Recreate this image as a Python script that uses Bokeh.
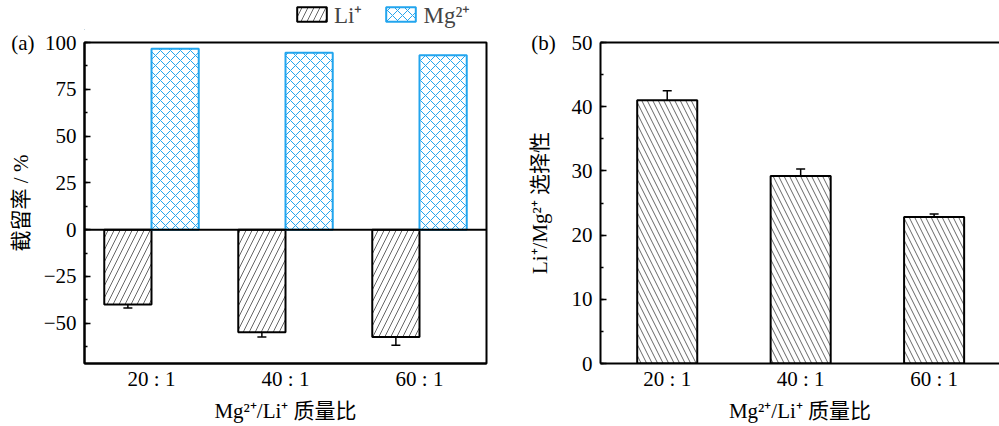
import numpy as np
from bokeh.plotting import figure
from bokeh.models import (ColumnDataSource, FixedTicker, SingleIntervalTicker, Span,
                          Whisker, TeeHead, Legend, LegendItem, LinearAxis, Range1d)
from bokeh.layouts import row, column
from bokeh.embed import file_html
from bokeh.resources import INLINE

# ---------------- data ----------------
ratio_labels = ["20 : 1", "40 : 1", "60 : 1"]
li_rejection = [-40.0, -54.8, -57.3]
li_rejection_err = [1.8, 2.5, 4.4]
mg_rejection = [96.6, 94.5, 93.2]
selectivity = [41.0, 29.2, 22.8]
selectivity_err = [1.5, 1.1, 0.5]
series_names = ["Li⁺", "Mg²⁺"]

SERIF = "Liberation Serif, Noto Sans CJK SC"
BLUE = "#22a5ee"
TICK_FONT = "21px"
LABEL_FONT = "21px"
NB = "\u00a0"

LI_STYLE = dict(fill_color="white", line_color="black", line_width=2,
                hatch_pattern="/", hatch_color="#666666", hatch_scale=12, hatch_weight=1)
MG_STYLE = dict(fill_color="white", line_color=BLUE, line_width=2,
                hatch_pattern="x", hatch_color=BLUE, hatch_scale=10, hatch_weight=1)

x = np.arange(1, len(ratio_labels) + 1)
overrides = {int(i): lab for i, lab in zip(x, ratio_labels)}


def style(p, interval):
    p.grid.visible = False
    p.background_fill_color = "white"
    p.border_fill_color = "white"
    p.xaxis.ticker = FixedTicker(ticks=list(x))
    p.xaxis.major_label_overrides = overrides
    p.xaxis.major_tick_line_color = None
    p.xaxis.minor_tick_line_color = None
    p.xaxis.major_tick_out = 0
    p.xaxis.major_tick_in = 0
    p.yaxis.ticker = SingleIntervalTicker(interval=interval, num_minor_ticks=2)
    p.yaxis.major_tick_in = 6
    p.yaxis.major_tick_out = 0
    p.yaxis.minor_tick_in = 3
    p.yaxis.minor_tick_out = 0
    for ax in (p.xaxis, p.yaxis):
        ax.axis_line_width = 2
        ax.axis_line_color = "black"
        ax.major_tick_line_width = 1.5
        ax.minor_tick_line_width = 1.5
        ax.major_label_text_font = SERIF
        ax.major_label_text_font_size = TICK_FONT
        ax.major_label_text_color = "black"
        ax.axis_label_text_font = SERIF
        ax.axis_label_text_font_size = LABEL_FONT
        ax.axis_label_text_font_style = "normal"
        ax.axis_label_text_color = "black"
    p.xaxis.major_label_standoff = 3
    p.xaxis.axis_label_standoff = 5
    p.yaxis.major_label_standoff = 8


# ---------------- legend strip (frame aligned with panel a) ----------------
leg = figure(width=500, height=30, min_border=0, x_range=Range1d(0, 1), y_range=Range1d(0, 1),
             x_axis_type=None, y_axis_type=None, output_backend="svg", toolbar_location=None)
leg.grid.visible = False
leg.outline_line_color = None
leg.background_fill_color = "white"
leg.border_fill_color = "white"
dummy = dict(x=[-1.0], top=[0.0])   # outside the strip's range: only the legend swatches show
lr_li = leg.vbar(x="x", top="top", width=0.1, source=ColumnDataSource(dummy), **LI_STYLE)
lr_mg = leg.vbar(x="x", top="top", width=0.1, source=ColumnDataSource(dummy), **MG_STYLE)
legend = Legend(items=[LegendItem(label=series_names[0], renderers=[lr_li]),
                       LegendItem(label=series_names[1], renderers=[lr_mg])],
                orientation="horizontal", location=(209, 0),
                glyph_width=37, glyph_height=18, label_standoff=4, spacing=20,
                padding=0, margin=0, border_line_color=None, background_fill_alpha=0,
                label_text_font=SERIF, label_text_font_size="23px")
leg.add_layout(legend)

# ---------------- panel (a) ----------------
w = 0.3525
pa = figure(width=500, height=396, min_border_left=84, min_border_right=14,
            min_border_top=12, min_border_bottom=63,
            x_range=Range1d(0.5, 3.5), y_range=Range1d(-71.5, 100),
            output_backend="svg", toolbar_location=None)
style(pa, 25)
pa.outline_line_color = "black"
pa.outline_line_width = 2
pa.outline_line_alpha = 1
pa.xaxis.axis_label = "Mg²⁺/Li⁺ 质量比"
pa.yaxis.axis_label = "截留率 / %"
pa.yaxis.axis_label_standoff = -25
pa.yaxis.major_label_overrides = {100: "(a)" + NB * 2 + "100"}

src_li = ColumnDataSource(dict(x=x - w / 2, top=[0] * len(x), bottom=li_rejection,
                               upper=np.array(li_rejection) + np.array(li_rejection_err),
                               lower=np.array(li_rejection) - np.array(li_rejection_err)))
src_mg = ColumnDataSource(dict(x=x + w / 2, top=mg_rejection, bottom=[0] * len(x)))

pa.vbar(x="x", top="top", bottom="bottom", width=w, source=src_li, **LI_STYLE)
pa.vbar(x="x", top="top", bottom="bottom", width=w, source=src_mg, **MG_STYLE)
pa.add_layout(Span(location=0, dimension="width", line_color="black", line_width=2))
pa.add_layout(Whisker(source=src_li, base="x", upper="upper", lower="lower",
                      line_width=1.5, line_color="black",
                      upper_head=TeeHead(size=9, line_width=1.5, line_color="black"),
                      lower_head=TeeHead(size=9, line_width=1.5, line_color="black")))

# ---------------- panel (b) ----------------
wb = 0.45
pb = figure(width=499, height=426, min_border_left=100, min_border_right=0,
            min_border_top=42, min_border_bottom=63,
            x_range=Range1d(0.5, 3.49), y_range=Range1d(0, 50),
            output_backend="svg", toolbar_location=None)
style(pb, 10)
pb.outline_line_color = None
pb.xaxis.axis_label = "Mg²⁺/Li⁺ 质量比"
pb.yaxis.axis_label = "Li⁺/Mg²⁺ 选择性"
pb.yaxis.axis_label_standoff = -24
pb.yaxis.major_label_overrides = {50: "(b)" + NB * 3 + "50"}

top_ax = LinearAxis(ticker=FixedTicker(ticks=[]), axis_line_width=2, axis_line_color="black",
                    major_tick_line_color=None, minor_tick_line_color=None)
right_ax = LinearAxis(ticker=FixedTicker(ticks=[]), axis_line_width=1, axis_line_color="#d8d8d8",
                      major_tick_line_color=None, minor_tick_line_color=None)
pb.add_layout(top_ax, "above")
pb.add_layout(right_ax, "right")

sel = np.array(selectivity)
sel_e = np.array(selectivity_err)
src_b = ColumnDataSource(dict(x=x, top=sel, upper=sel + sel_e, lower=sel - sel_e))
pb.vbar(x="x", top="top", bottom=0, width=wb, source=src_b,
        fill_color="white", line_color="black", line_width=2,
        hatch_pattern="\\", hatch_color="#666666", hatch_scale=11, hatch_weight=1)
pb.add_layout(Whisker(source=src_b, base="x", upper="upper", lower="lower",
                      line_width=1.5, line_color="black",
                      upper_head=TeeHead(size=9, line_width=1.5, line_color="black"),
                      lower_head=TeeHead(size=9, line_width=1.5, line_color="black")))

layout = row(column(leg, pa), pb)
open("out.html", "w").write(file_html(layout, INLINE))
